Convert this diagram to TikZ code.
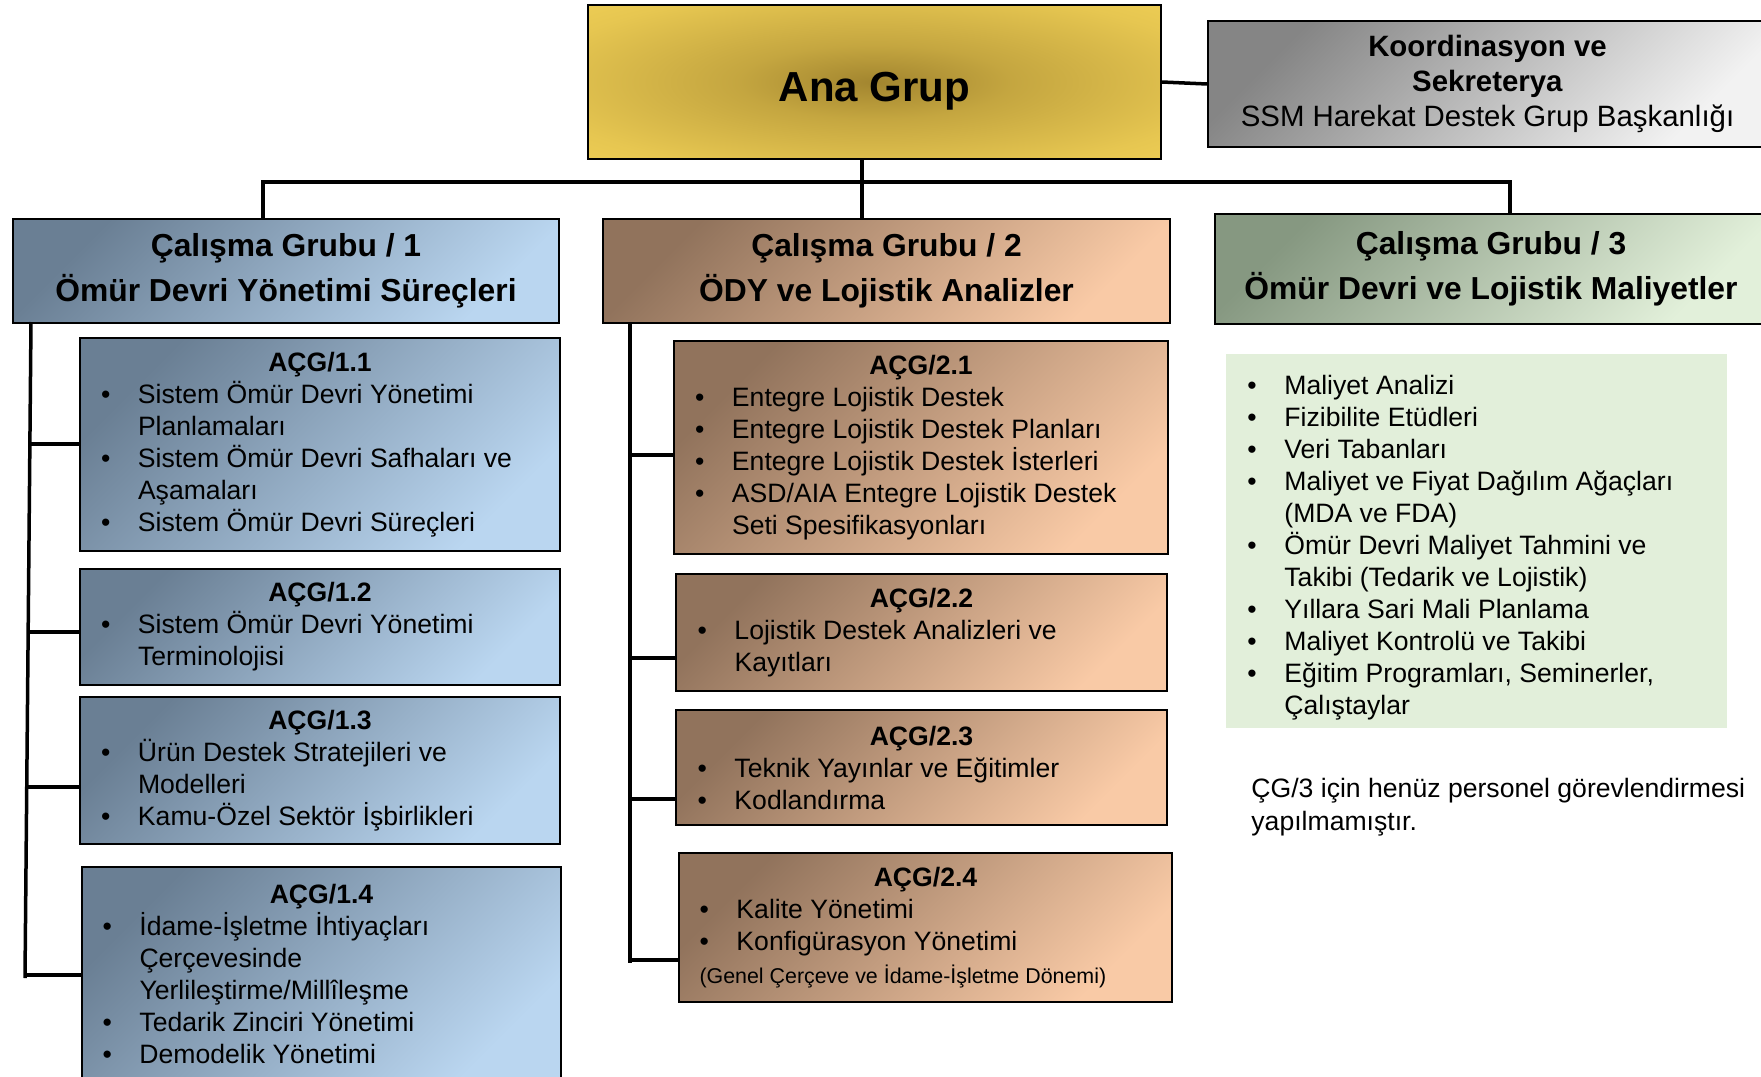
\documentclass[tikz,border=0pt]{standalone}
\usepackage{fontspec}
\setmainfont{Liberation Sans}
\usetikzlibrary{calc}

\definecolor{anaC}{HTML}{A2852F}
\definecolor{anaO}{HTML}{FDDC5C}
\definecolor{grayA}{HTML}{858585}
\definecolor{grayB}{HTML}{F2F2F2}
\definecolor{blueA}{HTML}{6A7F94}
\definecolor{blueB}{HTML}{BAD6F0}
\definecolor{brownA}{HTML}{91735C}
\definecolor{brownB}{HTML}{F9CAA6}
\definecolor{greenA}{HTML}{869881}
\definecolor{greenB}{HTML}{E2F0DA}
\definecolor{listgreen}{HTML}{E2EFDA}

\pgfdeclareradialshading{anaglow}{\pgfpoint{0bp}{0bp}}{color(0bp)=(anaC); color(12bp)=(anaC!62!anaO); color(30bp)=(anaC!25!anaO); color(48bp)=(anaO!97!anaC); color(75bp)=(anaO)}

\newcommand{\natsp}{\spaceskip=0pt\relax\xspaceskip=0pt\relax}
\newcommand{\bitem}[1]{\par\hangindent=18.5pt\hangafter=1\noindent\makebox[18.5pt][l]{\textbullet}#1\par}
\newcommand{\acghead}[1]{{\centering\bfseries #1\par}}

\tikzset{
  placebox/.style n args={4}{anchor=north west, at={(#1,#2)},
     minimum width={(#3-#1)*0.5pt}, minimum height={(#4-#2)*0.5pt}},
  boxbase/.style={draw=black, line width=1pt, inner sep=0pt},
  diag/.style={shading angle=45},
  bluebox/.style={boxbase, top color=blueA, bottom color=blueB, diag},
  brownbox/.style={boxbase, top color=brownA, bottom color=brownB, diag},
  greenbox/.style={boxbase, top color=greenA, bottom color=greenB, diag},
  graybox/.style={boxbase, top color=grayA, bottom color=grayB, diag},
  anabox/.style={boxbase, shading=anaglow},
  titlefont/.style={font=\fontsize{15.9}{22.5}\selectfont\bfseries, align=center},
  bodyfont/.style={font=\fontsize{13.3}{16}\selectfont, align=left},
  conn/.style={line width=1.75pt, draw=black},
}

\begin{document}
\begin{tikzpicture}[x=0.5pt,y=-0.5pt]
\useasboundingbox (0,0) rectangle (1761,1076);

% top level
\node[anabox, placebox={587}{4}{1160}{158}, font=\fontsize{21}{25}\selectfont\bfseries] (ana) {\raisebox{-9.5pt}[0pt][0pt]{Ana Grup}};
\node[graybox, placebox={1207}{20}{1766}{146}, font=\fontsize{14.7}{17.7}\selectfont, align=center] (koord)
  {\natsp\textbf{Koordinasyon ve}\\\textbf{Sekreterya}\\SSM Harekat Destek Grup Başkanlığı};

% working groups
\node[bluebox, placebox={12}{218}{558}{322}, titlefont] (cg1) {\natsp Çalışma Grubu / 1\\Ömür Devri Yönetimi Süreçleri};
\node[brownbox, placebox={602}{218}{1169}{322}, titlefont] (cg2) {\natsp Çalışma Grubu / 2\\ÖDY ve Lojistik Analizler};
\node[greenbox, placebox={1214}{213}{1766}{323}, titlefont] (cg3) {\natsp Çalışma Grubu / 3\\Ömür Devri ve Lojistik Maliyetler};

% CG1 sub groups
\node[bluebox, placebox={79}{337}{559}{550}, bodyfont, text width=219pt] (acg11) {\natsp
  \acghead{AÇG/1.1}%
  \bitem{Sistem Ömür Devri Yönetimi\newline Planlamaları}%
  \bitem{Sistem Ömür Devri Safhaları ve\newline Aşamaları}%
  \bitem{Sistem Ömür Devri Süreçleri}};
\node[bluebox, placebox={79}{568}{559}{684}, bodyfont, text width=219pt] (acg12) {\natsp
  \acghead{AÇG/1.2}%
  \bitem{Sistem Ömür Devri Yönetimi\newline Terminolojisi}};
\node[bluebox, placebox={79}{696}{559}{843}, bodyfont, text width=219pt] (acg13) {\natsp
  \acghead{AÇG/1.3}%
  \bitem{Ürün Destek Stratejileri ve\newline Modelleri}%
  \bitem{Kamu-Özel Sektör İşbirlikleri}};
\node[bluebox, placebox={81}{866}{560}{1080}, bodyfont, text width=219pt] (acg14) {\natsp
  \acghead{AÇG/1.4}%
  \bitem{İdame-İşletme İhtiyaçları\newline Çerçevesinde\newline Yerlileştirme/Millîleşme}%
  \bitem{Tedarik Zinciri Yönetimi}%
  \bitem{Demodelik Yönetimi}};

% CG2 sub groups
\node[brownbox, placebox={673}{340}{1167}{553}, bodyfont, text width=226pt] (acg21) {\natsp
  \acghead{AÇG/2.1}%
  \bitem{Entegre Lojistik Destek}%
  \bitem{Entegre Lojistik Destek Planları}%
  \bitem{Entegre Lojistik Destek İsterleri}%
  \bitem{ASD/AIA Entegre Lojistik Destek\newline Seti Spesifikasyonları}};
\node[brownbox, placebox={675}{573}{1166}{690}, bodyfont, text width=224pt] (acg22) {\natsp
  \acghead{AÇG/2.2}%
  \bitem{Lojistik Destek Analizleri ve\newline Kayıtları}};
\node[brownbox, placebox={675}{709}{1166}{824}, bodyfont, text width=224pt] (acg23) {\natsp
  \acghead{AÇG/2.3}%
  \bitem{Teknik Yayınlar ve Eğitimler}%
  \bitem{Kodlandırma}};
\node[brownbox, placebox={678}{852}{1171}{1001}, bodyfont, text width=226pt] (acg24) {\natsp
  \acghead{AÇG/2.4}%
  \bitem{Kalite Yönetimi}%
  \bitem{Konfigürasyon Yönetimi}%
  {\fontsize{10.7}{16.5}\selectfont\natsp\noindent(Genel Çerçeve ve İdame-İşletme Dönemi)\par}};

% CG3 topics
\node[fill=listgreen, inner sep=0pt, placebox={1226}{354}{1727}{728}, bodyfont, text width=229.5pt] (cg3list) {\natsp
  \bitem{Maliyet Analizi}%
  \bitem{Fizibilite Etüdleri}%
  \bitem{Veri Tabanları}%
  \bitem{Maliyet ve Fiyat Dağılım Ağaçları\newline (MDA ve FDA)}%
  \bitem{Ömür Devri Maliyet Tahmini ve\newline Takibi (Tedarik ve Lojistik)}%
  \bitem{Yıllara Sari Mali Planlama}%
  \bitem{Maliyet Kontrolü ve Takibi}%
  \bitem{Eğitim Programları, Seminerler,\newline Çalıştaylar}};

\node[anchor=north west, inner sep=0pt, align=left, font=\fontsize{13.3}{16.5}\selectfont] (note) at (1251,778)
  {\natsp ÇG/3 için henüz personel görevlendirmesi\\yapılmamıştır.};

% connectors: top
\coordinate (j0) at (862,182);
\coordinate (b1) at (263,182);
\coordinate (b3) at (1510,182);
\draw[conn] (ana.east) -- (koord.west);
\draw[conn] (ana.south -| j0) -- (j0);
\draw[conn] (cg1.north -| b1) -- (b1) -- (b3) -- (cg3.north -| b3);
\draw[conn] (j0) -- (cg2.north -| j0);

% CG1 trunk
\coordinate (t1a) at (31,322);
\coordinate (t1b) at (25,978);
\coordinate (c11) at (29.9,444);
\coordinate (c12) at (28.2,632);
\coordinate (c13) at (26.7,787);
\coordinate (c14) at (25,975);
\draw[conn] (t1a) -- (t1b);
\draw[conn] (c11) -- (c11 -| acg11.west);
\draw[conn] (c12) -- (c12 -| acg12.west);
\draw[conn] (c13) -- (c13 -| acg13.west);
\draw[conn] (c14) -- (c14 -| acg14.west);

% CG2 trunk
\coordinate (t2a) at (630,322);
\coordinate (t2b) at (630,963);
\coordinate (c21) at (630,455);
\coordinate (c22) at (630,658);
\coordinate (c23) at (630,799);
\coordinate (c24) at (630,960);
\draw[conn] (t2a) -- (t2b);
\draw[conn] (c21) -- (c21 -| acg21.west);
\draw[conn] (c22) -- (c22 -| acg22.west);
\draw[conn] (c23) -- (c23 -| acg23.west);
\draw[conn] (c24) -- (c24 -| acg24.west);
\end{tikzpicture}
\end{document}
